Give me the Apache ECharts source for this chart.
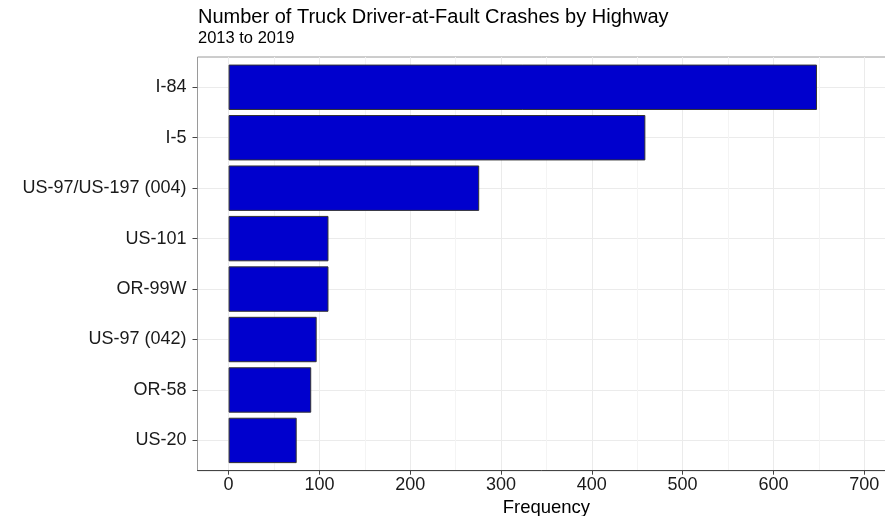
<!DOCTYPE html>
<html>
<head>
<meta charset="utf-8">
<script src="https://cdn.jsdelivr.net/npm/echarts@6/dist/echarts.min.js"></script>
<style>
html,body{margin:0;padding:0;background:#fff;overflow:hidden;}
#chart{width:885px;height:516px;}
</style>
</head>
<body>
<div id="chart"></div>
<script>
const categories = ["I-84", "I-5", "US-97/US-197 (004)", "US-101", "OR-99W", "US-97 (042)", "OR-58", "US-20"];
const frequency = [648, 459, 276, 110, 110, 97, 91, 75];
const xTicks = [0, 100, 200, 300, 400, 500, 600, 700];

const FONT = "'Liberation Sans', Arial, Helvetica, sans-serif";
const chart = echarts.init(document.getElementById('chart'), null, {renderer: 'canvas'});

// Panel geometry
const panelLeft = 197.5, panelTop = 57, panelW = 720, panelH = 413.7;
const xLeft = 228.6, xW = 635.6;
const band = panelH / 8.2;
const dataTop = panelTop + 0.1 * band, dataH = band * 8;

const gridBase = {outerBoundsMode: 'none', containLabel: false};

const option = {
  backgroundColor: '#fff',
  animation: false,
  title: [
    {text: 'Number of Truck Driver-at-Fault Crashes by Highway', left: 198, top: 7, padding: 0,
     textStyle: {fontFamily: FONT, fontSize: 20, fontWeight: 'normal', color: '#000'}},
    {text: '2013 to 2019', left: 198, top: 29.5, padding: 0,
     textStyle: {fontFamily: FONT, fontSize: 16.5, fontWeight: 'normal', color: '#000'}}
  ],
  grid: [
    Object.assign({left: panelLeft, top: panelTop, width: panelW, height: panelH, show: true, borderColor: '#9a9a9a', borderWidth: 1, backgroundColor: 'transparent'}, gridBase),
    Object.assign({left: xLeft, top: panelTop, width: xW, height: panelH}, gridBase),
    Object.assign({left: panelLeft, top: dataTop, width: panelW, height: dataH}, gridBase),
    Object.assign({left: xLeft, top: dataTop, width: xW, height: dataH}, gridBase)
  ],
  xAxis: [
    {gridIndex: 0, type: 'value', min: 0, max: 1, axisLine: {show: true, lineStyle: {color: '#444', width: 1}},
     axisTick: {show: false}, axisLabel: {show: false}, splitLine: {show: false}},
    {gridIndex: 1, type: 'value', min: xTicks[0], max: xTicks[xTicks.length - 1], interval: 100,
     axisLine: {show: false},
     axisTick: {show: true, length: 4, lineStyle: {color: '#444'}},
     axisLabel: {show: true, fontFamily: FONT, fontSize: 18, color: '#1a1a1a', margin: 5},
     splitLine: {show: true, lineStyle: {color: '#ebebeb', width: 1}},
     minorTick: {show: false, splitNumber: 2},
     minorSplitLine: {show: true, lineStyle: {color: '#f4f4f4', width: 1}},
     name: 'Frequency', nameLocation: 'middle', nameGap: 22,
     nameTextStyle: {fontFamily: FONT, fontSize: 18.5, color: '#000'}},
    {gridIndex: 2, type: 'value', min: 0, max: 1, show: false},
    {gridIndex: 3, type: 'value', min: xTicks[0], max: xTicks[xTicks.length - 1], show: false}
  ],
  yAxis: [
    {gridIndex: 0, type: 'value', show: false},
    {gridIndex: 1, type: 'value', show: false},
    {gridIndex: 2, type: 'category', data: categories, inverse: true,
     axisLine: {show: false},
     axisTick: {show: true, alignWithLabel: true, length: 5, lineStyle: {color: '#444'}},
     axisLabel: {fontFamily: FONT, fontSize: 18, color: '#1a1a1a', margin: 11},
     splitLine: {show: true, alignWithLabel: true, lineStyle: {color: '#ebebeb', width: 1}}},
    {gridIndex: 3, type: 'category', data: categories, inverse: true, show: false}
  ],
  series: [{
    type: 'bar', xAxisIndex: 3, yAxisIndex: 3,
    data: frequency, barWidth: '90%',
    itemStyle: {color: '#0000CD', borderColor: '#333', borderWidth: 1}
  }]
};
chart.setOption(option);
</script>
</body>
</html>
